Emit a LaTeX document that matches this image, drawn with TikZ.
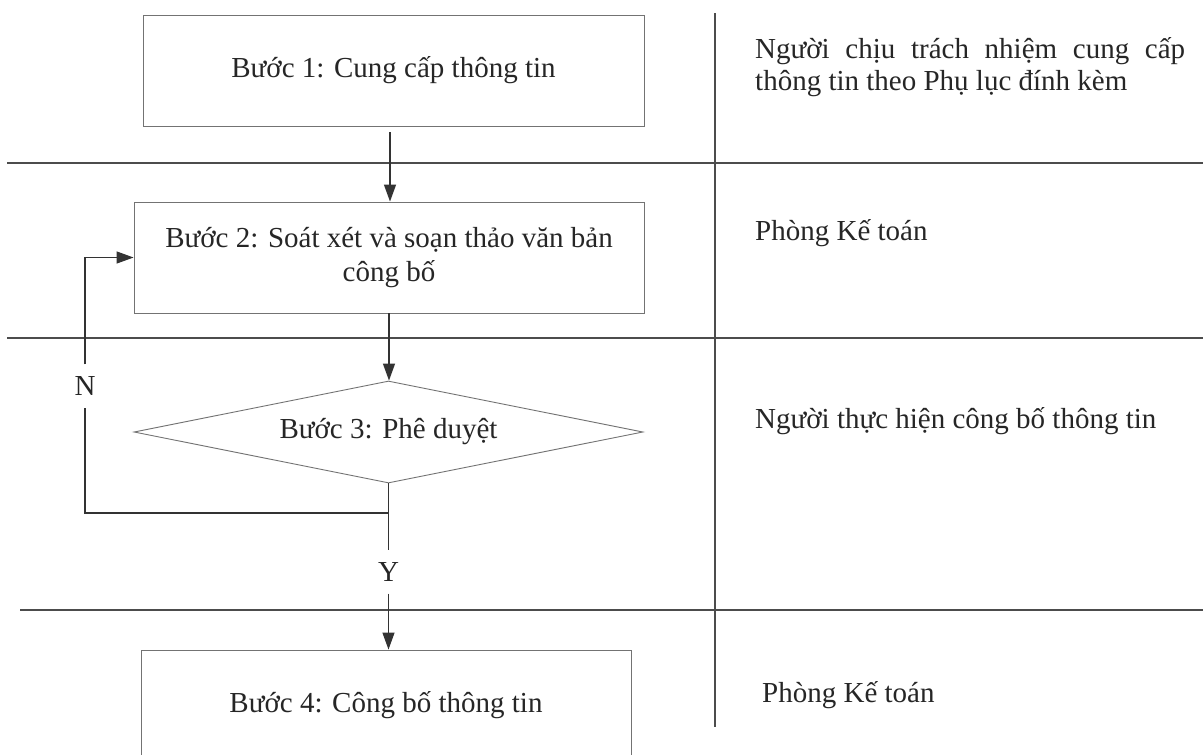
\documentclass[tikz,border=0pt]{standalone}
\usepackage{fontspec}
\setmainfont{Liberation Serif}
\usetikzlibrary{arrows.meta,shapes.geometric}
\begin{document}
\begin{tikzpicture}[x=1pt,y=-1pt,
  every node/.style={font=\fontsize{29}{32}\selectfont, text=black!85},
  stepbox/.style={draw=black!55, line width=0.9pt, rectangle, inner sep=0pt},
  decision/.style={draw=black!55, line width=0.9pt, diamond, aspect=5, inner sep=0pt},
  flow/.style={draw=black!80, line width=1.3pt},
  arr/.style={flow, -{Triangle[length=17pt,width=12pt]}},
  lane/.style={draw=black!70, line width=1.2pt},
  tag/.style={inner sep=0pt, anchor=base west},
  yn/.style={inner xsep=2pt, inner ysep=12pt},
]
\useasboundingbox (0,0) rectangle (1203,755);
\clip (0,0) rectangle (1203,755);
\fill[white] (0,0) rectangle (1203,755);

% swimlane separators
\draw[lane] (7,163) -- (1203,163);
\draw[lane] (7,338) -- (1203,338);
\draw[lane] (20,610) -- (1203,610);
\draw[lane] (715,13) -- (715,727);

% process steps
\node[stepbox, minimum width=501pt, minimum height=111pt] (s1) at (393.5,70.5) {Bước 1: Cung cấp thông tin};
\node[stepbox, minimum width=510pt, minimum height=111pt, align=center,
      font=\fontsize{29}{34}\selectfont] (s2) at (389,257.5) {Bước 2: Soát xét và soạn thảo văn bản\\công bố};
\node[decision, minimum width=509pt, minimum height=102pt] (s3) at (388.5,432) {Bước 3: Phê duyệt};
\node[stepbox, minimum width=490pt, minimum height=110pt] (s4) at (386,705) {Bước 4: Công bố thông tin};

% branch labels
\node[yn] (N) at (85,386) {N};
\node[yn] (Y) at (388.5,572) {Y};

% connectors
\coordinate (a1) at (390,132);
\draw[arr] (a1) -- (a1 |- s2.north);
\draw[arr] (s2.south) -- (s2.south |- s3.north);
\draw[flow] (s3.south) -- (Y.north);
\draw[arr] (Y.south) -- (Y.south |- s4.north);
\coordinate (j) at (388.5,513);
\draw[flow] (j) -| (N.south);
\draw[arr] (N.north) |- (s2.west);

% responsibilities
\node[tag] (r1a) at (755,58) {\makebox[430pt][s]{Người chịu trách nhiệm cung cấp}};
\node[tag] (r1b) at (755,90) {thông tin theo Phụ lục đính kèm};
\node[tag] (r2) at (755,240) {Phòng Kế toán};
\node[tag] (r3) at (755,428) {Người thực hiện công bố thông tin};
\node[tag] (r4) at (762,702) {Phòng Kế toán};
\end{tikzpicture}
\end{document}
